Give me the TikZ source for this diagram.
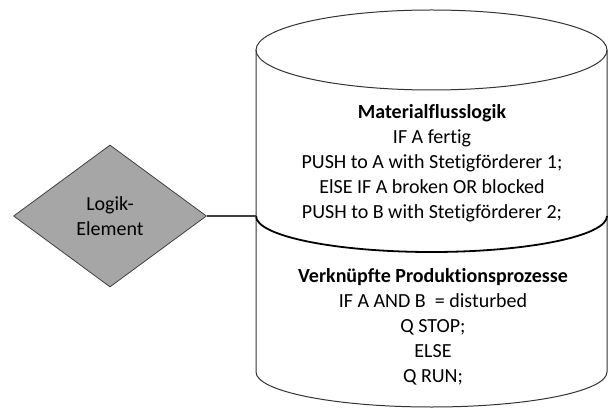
\documentclass[tikz,border=0pt]{standalone}
\usepackage{fontspec}
\setmainfont[Ligatures=NoCommon]{Carlito}
\usetikzlibrary{shapes.geometric}
\begin{document}
\begin{tikzpicture}[x=1pt, y=1pt,
        rand/.style={draw=black!80, line width=1pt},
        schrift/.style={align=center, inner sep=0, font=\fontsize{20}{25}\selectfont}]
                \useasboundingbox (0, 0) rectangle (609, 407);
                \node [diamond, draw=black!75, fill=black!35, line width=.8pt,
                    inner sep=0, minimum width=193pt, minimum height=142pt,
                    schrift] (logik) at (110, 191) {Logik-\\Element};
                \draw [rand] (431.5, 357) ellipse [x radius=175.5, y radius=40];
                \draw [rand] (256, 357) -- (256, 35)
                    arc [start angle=180, end angle=360, x radius=175.5, y radius=35]
                    -- (607, 357);
                \draw [line width=1.8pt] (256, 191)
                    arc [start angle=180, end angle=360, x radius=175.5, y radius=36];
                \coordinate (links) at (256, 191);
                \draw [line width=1.8pt, black!75] (logik.east) -- (links);
                \node [schrift] (fluss) at (432, 244)
                    {\textbf{Materialflusslogik}\\IF A fertig\\
                    PUSH to A with Stetigförderer 1;\\ElSE IF A broken OR blocked\\
                    PUSH to B with Stetigförderer 2;};
                \node [schrift] (prozess) at (433, 80)
                    {\textbf{Verknüpfte Produktionsprozesse}\\IF A AND B~ = disturbed\\
                    Q STOP;\\ELSE\\Q RUN;};
\end{tikzpicture}
\end{document}
